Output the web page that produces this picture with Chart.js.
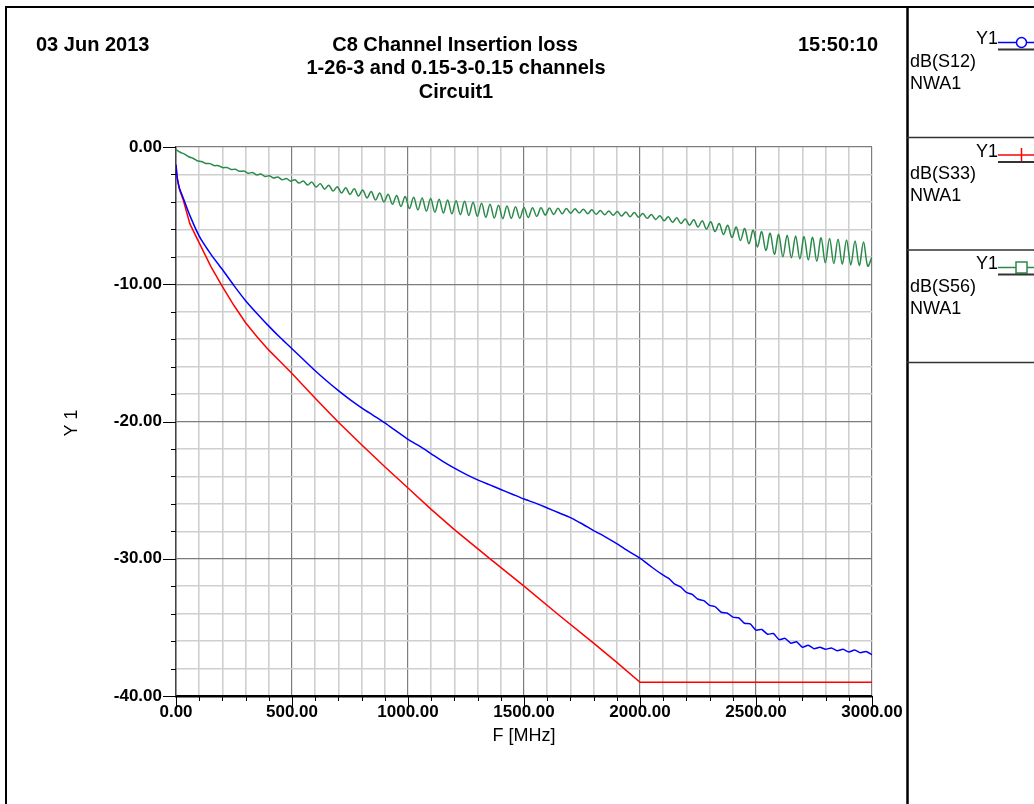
<!DOCTYPE html>
<html>
<head>
<meta charset="utf-8">
<title>C8 Channel Insertion loss</title>
<script src="https://cdn.jsdelivr.net/npm/chart.js@4.4.0/dist/chart.umd.min.js"></script>
<style>
  html, body { margin: 0; padding: 0; background: #fff; }
  canvas { display: block; }
</style>
</head>
<body>
<canvas id="myChart" width="1034" height="804"></canvas>
<script>
// dB(S12) - blue
const s12Freq = [0, 5, 15, 34, 60, 100, 150, 200, 250, 300, 350, 400, 450, 500, 550, 600, 650, 700, 750, 800,
    850, 900, 950, 1000, 1050, 1100, 1150, 1200, 1250, 1300, 1350, 1400, 1450, 1500, 1550, 1600, 1650, 1700,
    1750, 1800, 1850, 1900, 1950, 2000, 2050, 2100, 2125, 2150, 2175, 2200, 2225, 2250, 2275, 2300, 2325,
    2350, 2375, 2400, 2425, 2450, 2475, 2500, 2525, 2550, 2575, 2600, 2625, 2650, 2675, 2700, 2725, 2750,
    2775, 2800, 2825, 2850, 2875, 2900, 2925, 2950, 2975, 3000];
const s12Db = [-1.3, -2.2, -3.0, -3.84, -5.0, -6.49, -7.8, -8.93, -10.1, -11.2, -12.15, -13.05, -13.9, -14.7,
    -15.5, -16.3, -17.05, -17.75, -18.4, -19.0, -19.55, -20.1, -20.7, -21.3, -21.8, -22.35, -22.9, -23.4,
    -23.85, -24.25, -24.6, -24.95, -25.3, -25.65, -25.95, -26.3, -26.65, -27.0, -27.45, -27.95, -28.4,
    -28.9, -29.45, -29.95, -30.6, -31.2, -31.45, -31.85, -32.05, -32.45, -32.6, -32.95, -33.05, -33.4,
    -33.5, -33.9, -33.95, -34.25, -34.3, -34.7, -34.75, -35.2, -35.15, -35.5, -35.45, -35.9, -35.8,
    -36.15, -36.05, -36.45, -36.3, -36.55, -36.45, -36.6, -36.5, -36.7, -36.6, -36.8, -36.65, -36.85,
    -36.75, -37.0];

// dB(S33) - red
const s33Freq = [0, 5, 15, 31, 60, 100, 150, 200, 250, 300, 350, 400, 450, 500, 600, 700, 800, 900, 1000,
    1100, 1200, 1350, 1500, 1650, 1800, 1900, 2000, 3000];
const s33Db = [-1.3, -2.3, -3.1, -3.84, -5.6, -6.98, -8.7, -10.17, -11.55, -12.8, -13.85, -14.8, -15.65,
    -16.5, -18.3, -20.05, -21.7, -23.3, -24.85, -26.4, -27.88, -29.95, -32.0, -34.1, -36.15, -37.55,
    -39.0, -39.0];

// dB(S56) - green, read peak / trough along the sweep (0..3000 MHz)
const s56Db = [
    -0.20, -0.38, -0.52, -0.71, -0.82, -1.00, -1.06, -1.20, -1.21, -1.35,
    -1.36, -1.50, -1.49, -1.64, -1.62, -1.77, -1.75, -1.91, -1.86, -2.03,
    -1.97, -2.15, -2.09, -2.26, -2.19, -2.38, -2.29, -2.49, -2.38, -2.63,
    -2.47, -2.77, -2.56, -2.92, -2.67, -3.07, -2.78, -3.21, -2.89, -3.35,
    -2.97, -3.46, -3.05, -3.57, -3.13, -3.71, -3.24, -3.86, -3.35, -4.00,
    -3.45, -4.17, -3.53, -4.33, -3.60, -4.49, -3.66, -4.58, -3.71, -4.67,
    -3.76, -4.75, -3.81, -4.81, -3.86, -4.87, -3.91, -4.93, -3.96, -4.99,
    -4.03, -5.05, -4.10, -5.12, -4.17, -5.18, -4.24, -5.22, -4.30, -5.20,
    -4.35, -5.19, -4.40, -5.14, -4.42, -5.05, -4.43, -4.96, -4.45, -4.91,
    -4.46, -4.87, -4.48, -4.83, -4.50, -4.81, -4.53, -4.86, -4.58, -4.90,
    -4.62, -4.94, -4.66, -4.98, -4.70, -5.03, -4.74, -5.08, -4.78, -5.12,
    -4.84, -5.20, -4.92, -5.28, -5.01, -5.37, -5.09, -5.48, -5.16, -5.58,
    -5.24, -5.70, -5.30, -5.83, -5.37, -5.97, -5.44, -6.16, -5.57, -6.38,
    -5.70, -6.60, -5.83, -6.82, -5.94, -7.05, -6.06, -7.28, -6.17, -7.55,
    -6.28, -7.82, -6.38, -8.00, -6.43, -8.07, -6.48, -8.14, -6.53, -8.23,
    -6.57, -8.33, -6.62, -8.44, -6.67, -8.49, -6.72, -8.54, -6.78, -8.59,
    -6.85, -8.63, -6.93, -8.68, -8.00];
// sweep grid of the measurement
const s56Freq = s56Db.map((v, i) => i * 3000 / (s56Db.length - 1));

// axis labels
const xLabelValues = [0, 500, 1000, 1500, 2000, 2500, 3000];
const xTickLabels = ["0.00", "500.00", "1000.00", "1500.00", "2000.00", "2500.00", "3000.00"];
const yLabelValues = [0, -10, -20, -30, -40];
const yTickLabels = ["0.00", "-10.00", "-20.00", "-30.00", "-40.00"];

// legend
const seriesNames = ["dB(S12)", "dB(S33)", "dB(S56)"];
const seriesColors = ["#0000ff", "#ff0000", "#2a8a4a"];
const seriesMarkers = ["circle", "plus", "square"];

const FONT = '"Liberation Sans", Arial, sans-serif';

function toPoints(freq, db) {
    return freq.map((f, i) => ({ x: f, y: db[i] }));
}

// frame, titles, tick marks and legend panel
const decorations = {
    id: 'decorations',
    afterDraw(chart) {
        const c = chart.ctx;
        const xs = chart.scales.x;
        const ys = chart.scales.y;
        const area = chart.chartArea;
        c.save();

        // tick marks
        c.strokeStyle = '#000';
        c.lineWidth = 1;
        ys.ticks.forEach(t => {
            const y = Math.round(ys.getPixelForValue(t.value)) + 0.5;
            const len = yLabelValues.includes(t.value) ? 13 : 5;
            c.beginPath();
            c.moveTo(area.left - len, y);
            c.lineTo(area.left, y);
            c.stroke();
        });
        xs.ticks.forEach(t => {
            const x = Math.round(xs.getPixelForValue(t.value)) + 0.5;
            const len = xLabelValues.includes(t.value) ? 13 : 5;
            c.beginPath();
            c.moveTo(x, area.bottom);
            c.lineTo(x, area.bottom + len);
            c.stroke();
        });

        // outer frame
        c.strokeStyle = '#000';
        c.lineWidth = 2;
        c.beginPath();
        c.moveTo(6, 804);
        c.lineTo(6, 7);
        c.lineTo(1034, 7);
        c.stroke();
        c.lineWidth = 2.5;
        c.beginPath();
        c.moveTo(907.5, 7);
        c.lineTo(907.5, 804);
        c.stroke();

        // header
        c.fillStyle = '#000';
        c.textBaseline = 'middle';
        c.font = 'bold 20px ' + FONT;
        c.textAlign = 'left';
        c.fillText('03 Jun 2013', 36, 45);
        c.textAlign = 'right';
        c.fillText('15:50:10', 878, 45);
        c.textAlign = 'center';
        c.fillText('C8 Channel Insertion loss', 455, 45);
        c.fillText('1-26-3 and 0.15-3-0.15 channels', 456, 68);
        c.fillText('Circuit1', 456, 92);

        // axis titles
        c.font = '18px ' + FONT;
        c.fillText('F [MHz]', 524, 736);
        c.save();
        c.translate(72, 423);
        c.rotate(-Math.PI / 2);
        c.fillText('Y 1', 0, 0);
        c.restore();

        // legend panel
        for (let k = 0; k < seriesNames.length; k++) {
            const top = 112.5 * k;
            const col = seriesColors[k];
            c.font = '18px ' + FONT;
            c.fillStyle = '#000';
            c.textAlign = 'right';
            c.fillText('Y1', 998, 39.5 + top);
            c.textAlign = 'left';
            c.fillText(seriesNames[k], 910, 62 + top);
            c.fillText('NWA1', 910, 84 + top);

            c.strokeStyle = col;
            c.lineWidth = 1.5;
            c.beginPath();
            c.moveTo(998, 42.5 + top);
            c.lineTo(1034, 42.5 + top);
            c.stroke();
            const mx = 1021.5, my = 42.5 + top;
            c.fillStyle = '#fff';
            if (seriesMarkers[k] == 'circle') {
                c.beginPath();
                c.arc(mx, my, 5, 0, Math.PI * 2);
                c.fill();
                c.stroke();
            } else if (seriesMarkers[k] == 'square') {
                c.fillRect(mx - 5.5, my - 5.5, 11, 11);
                c.strokeRect(mx - 5.5, my - 5.5, 11, 11);
            } else {
                c.beginPath();
                c.moveTo(mx, my - 7);
                c.lineTo(mx, my + 7);
                c.stroke();
            }

            c.strokeStyle = '#333';
            c.lineWidth = 2;
            c.beginPath();
            c.moveTo(998, 49.5 + top);
            c.lineTo(1034, 49.5 + top);
            c.stroke();

            c.lineWidth = 1.5;
            c.beginPath();
            c.moveTo(907, 137.5 + top);
            c.lineTo(1034, 137.5 + top);
            c.stroke();
        }
        c.restore();
    }
};

const gridColor = ctx => (ctx.tick && (ctx.tick.value % 500 === 0) ? '#7d7d7d' : '#cfcfcf');
const gridColorY = ctx => (ctx.tick && (ctx.tick.value % 10 === 0) ? '#7d7d7d' : '#cfcfcf');

let ctx = document.getElementById('myChart');
let myChart = new Chart(ctx, {
    type: 'line',
    data: {
        datasets: [
            {
                label: seriesNames[0],
                data: toPoints(s12Freq, s12Db),
                borderColor: seriesColors[0],
                borderWidth: 1.5,
                pointRadius: 0,
                tension: 0.2
            },
            {
                label: seriesNames[1],
                data: toPoints(s33Freq, s33Db),
                borderColor: seriesColors[1],
                borderWidth: 1.5,
                pointRadius: 0,
                tension: 0
            },
            {
                label: seriesNames[2],
                data: toPoints(s56Freq, s56Db),
                borderColor: seriesColors[2],
                borderWidth: 1.5,
                pointRadius: 0,
                tension: 0.35
            }
        ]
    },
    options: {
        responsive: false,
        animation: false,
        devicePixelRatio: 1,
        layout: { padding: { left: 76, right: 162, top: 147, bottom: 48 } },
        plugins: {
            legend: { display: false },
            tooltip: { enabled: false }
        },
        scales: {
            x: {
                type: 'linear',
                min: 0,
                max: 3000,
                afterFit(scale) { scale.height = 60; },
                ticks: {
                    stepSize: 100,
                    autoSkip: false,
                    maxRotation: 0,
                    padding: 6,
                    color: '#000',
                    font: { family: FONT, size: 17, weight: 'bold' },
                    callback: value => {
                        const k = xLabelValues.indexOf(value);
                        return k >= 0 ? xTickLabels[k] : '';
                    }
                },
                grid: {
                    color: gridColor,
                    lineWidth: ctx => (ctx.tick && ctx.tick.value % 500 === 0 ? 1.2 : 1.6),
                    drawTicks: false
                },
                border: { color: '#000', width: 2.5 }
            },
            y: {
                min: -40,
                max: 0,
                afterFit(scale) { scale.width = 100; },
                ticks: {
                    stepSize: 2,
                    autoSkip: false,
                    padding: 14,
                    color: '#000',
                    font: { family: FONT, size: 17, weight: 'bold' },
                    callback: value => {
                        const k = yLabelValues.indexOf(value);
                        return k >= 0 ? yTickLabels[k] : '';
                    }
                },
                grid: {
                    color: gridColorY,
                    lineWidth: ctx => (ctx.tick && ctx.tick.value % 10 === 0 ? 1.2 : 1.6),
                    drawTicks: false
                },
                border: { color: '#444', width: 1.5 }
            }
        }
    },
    plugins: [decorations]
});
</script>
</body>
</html>
